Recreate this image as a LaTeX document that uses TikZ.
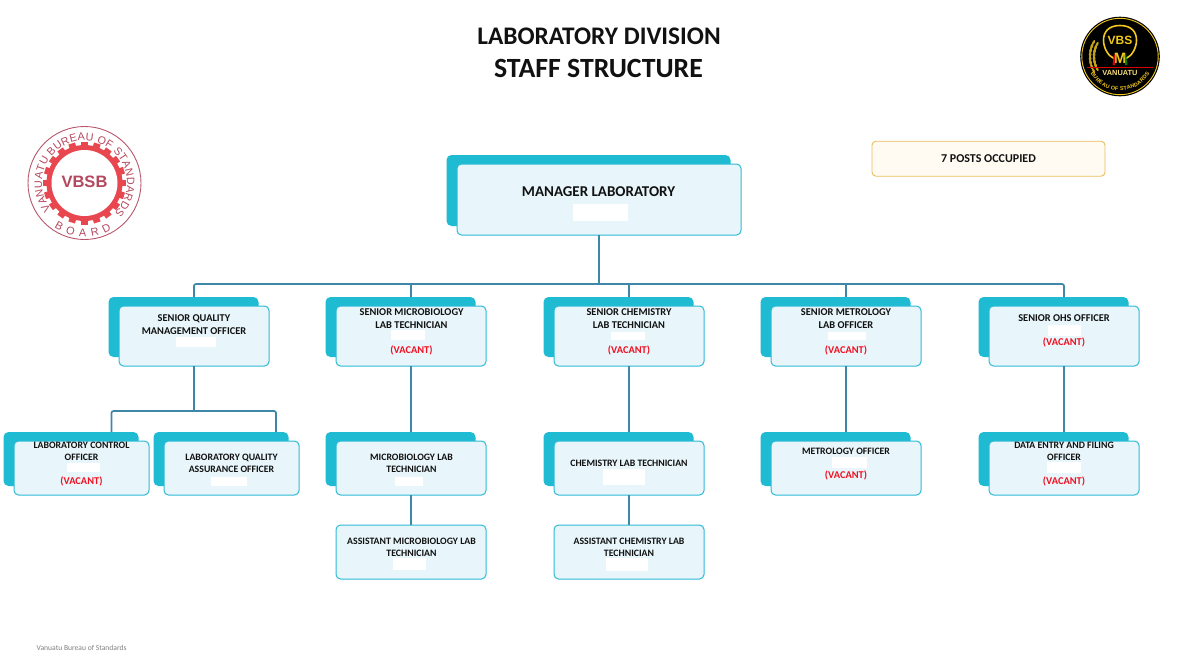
\documentclass[tikz,border=0pt]{standalone}
\usepackage{fontspec}
\setmainfont{Carlito}
\newfontfamily\sealfont{Liberation Sans}
\usetikzlibrary{decorations.text,calc}
\definecolor{plate}{HTML}{1FBBD3}
\definecolor{boxfill}{HTML}{E8F6FB}
\definecolor{boxline}{HTML}{2DBAD5}
\definecolor{conn}{HTML}{3F87A6}
\definecolor{ink}{HTML}{111111}
\definecolor{vac}{HTML}{F01020}
\definecolor{sealring}{HTML}{B8556A}
\definecolor{sealgear}{HTML}{E8474F}
\definecolor{sealtext}{HTML}{B5485E}
\definecolor{vbsgold}{HTML}{F2C81E}
\definecolor{postsline}{HTML}{E9BC5A}
\definecolor{postsfill}{HTML}{FFFBF3}
\tikzset{
  frontbox/.style={draw=boxline,fill=boxfill,line width=1pt,rounded corners=4.5pt,inner sep=0pt,outer sep=0pt},
  backbox/.style={fill=plate,rounded corners=5pt,inner sep=0pt,outer sep=0pt},
  connector/.style={draw=conn,line width=1.7pt},
  stafftext/.style={font=\bfseries\fontsize{10.4}{12.4}\selectfont,text=ink,align=center,inner sep=0pt},
  juniortext/.style={font=\bfseries\fontsize{9.8}{12.2}\selectfont,text=ink,align=center,inner sep=0pt},
  vacanttext/.style={font=\bfseries\fontsize{10.4}{12}\selectfont,text=vac,inner sep=0pt},
  whitepatch/.style={fill=white},
}
% name, x1, y1, x2, y2 : front box with its offset plate
\newcommand\platedbox[5]{%
  \pgfmathsetmacro\bw{#4-#2}\pgfmathsetmacro\bh{#5-#3}%
  \pgfmathsetmacro\bx{(#2+#4)/2}\pgfmathsetmacro\by{(#3+#5)/2}%
  \node[backbox,minimum width=\bw pt,minimum height=\bh pt] (#1-back) at (\bx-10.5,\by-9) {};%
  \node[frontbox,minimum width=\bw pt,minimum height=\bh pt] (#1) at (\bx,\by) {};%
}
\newcommand\plainbox[5]{%
  \pgfmathsetmacro\bw{#4-#2}\pgfmathsetmacro\bh{#5-#3}%
  \pgfmathsetmacro\bx{(#2+#4)/2}\pgfmathsetmacro\by{(#3+#5)/2}%
  \node[frontbox,minimum width=\bw pt,minimum height=\bh pt] (#1) at (\bx,\by) {};%
}
\begin{document}
\begin{tikzpicture}[x=1pt,y=-1pt]
\useasboundingbox (0,0) rectangle (1191,667);

% titles
\node[font=\bfseries\fontsize{25.3}{25.3}\selectfont,text=ink,inner sep=0pt] (title1) at (599,36) {LABORATORY DIVISION};
\node[font=\bfseries\fontsize{27.8}{27.8}\selectfont,text=ink,inner sep=0pt] (title2) at (598.5,68) {STAFF STRUCTURE};

% posts box
\node[draw=postsline,fill=postsfill,line width=0.9pt,rounded corners=4pt,minimum width=233pt,minimum height=35pt,inner sep=0pt,
      font=\bfseries\fontsize{12}{12}\selectfont,text=ink] (posts) at (988.5,158.7) {7 POSTS OCCUPIED};

% boxes
\platedbox{mgr}{457}{164}{741}{235}
\platedbox{qm}{119}{306}{269}{366}
\platedbox{mb}{336}{306}{486}{366}
\platedbox{ch}{554}{306}{704}{366}
\platedbox{me}{771}{306}{921}{366}
\platedbox{oh}{989}{306}{1139}{366}
\platedbox{lc}{14}{441}{149}{495}
\platedbox{lq}{164}{441}{299}{495}
\platedbox{mt}{336}{441}{486}{495}
\platedbox{ct}{554}{441}{704}{495}
\platedbox{mo}{771}{441}{921}{495}
\platedbox{de}{989}{441}{1139}{495}
\plainbox{am}{336}{525}{486}{579}
\plainbox{ac}{554}{525}{704}{579}

% connectors
\coordinate (busc) at (599,284);
\coordinate (busq) at (111.5,411);
\draw[connector] (mgr.south) -- (busc);
\draw[connector,rounded corners=2pt] (qm.north |- qm-back.north) |- (busc) -| (oh.north |- oh-back.north);
\draw[connector] (mb.north |- busc) -- (mb.north |- mb-back.north);
\draw[connector] (ch.north |- busc) -- (ch.north |- ch-back.north);
\draw[connector] (me.north |- busc) -- (me.north |- me-back.north);
\draw[connector] (qm.south) -- (qm.south |- busq);
\draw[connector,rounded corners=2pt] (busq |- lc-back.north) |- (qm.south |- busq) -| (276,432);
\draw[connector] (mb.south) -- (mb.south |- mt-back.north);
\draw[connector] (ch.south) -- (ch.south |- ct-back.north);
\draw[connector] (me.south) -- (me.south |- mo-back.north);
\draw[connector] (oh.south) -- (oh.south |- de-back.north);
\draw[connector] (mt.south) -- (am.north);
\draw[connector] (ct.south) -- (ac.north);

% blanked areas
\fill[whitepatch] (573,204) rectangle (628,221);
\fill[whitepatch] (176,337) rectangle (216,347);
\fill[whitepatch] (391,330) rectangle (425,340);
\fill[whitepatch] (611,332) rectangle (645,340);
\fill[whitepatch] (828,332) rectangle (866,340);
\fill[whitepatch] (1048,325) rectangle (1081,336);
\fill[whitepatch] (67,463) rectangle (100,472);
\fill[whitepatch] (211,477) rectangle (247,486);
\fill[whitepatch] (395,477) rectangle (423,486);
\fill[whitepatch] (603,469) rectangle (645,485);
\fill[whitepatch] (832,457) rectangle (867,468);
\fill[whitepatch] (1047,462) rectangle (1081,473);
\fill[whitepatch] (393,558) rectangle (426,570);
\fill[whitepatch] (606,558) rectangle (648,571);

% texts
\node[font=\bfseries\fontsize{15}{16}\selectfont,text=ink,inner sep=0pt] (mgr-t) at (598.5,191.7) {MANAGER LABORATORY};
\node[stafftext] (qm-t) at (194,324.5) {SENIOR QUALITY\\MANAGEMENT OFFICER};
\node[stafftext] (mb-t) at (411.5,318.5) {SENIOR MICROBIOLOGY\\LAB TECHNICIAN};
\node[stafftext] (ch-t) at (629,318.5) {SENIOR CHEMISTRY\\LAB TECHNICIAN};
\node[stafftext] (me-t) at (846,318.5) {SENIOR METROLOGY\\LAB OFFICER};
\node[stafftext] (oh-t) at (1064,318) {SENIOR OHS OFFICER};
\node[juniortext] (lc-t) at (81.5,451) {LABORATORY CONTROL\\OFFICER};
\node[juniortext] (lq-t) at (231.5,463) {LABORATORY QUALITY\\ASSURANCE OFFICER};
\node[juniortext] (mt-t) at (411.5,463) {MICROBIOLOGY LAB\\TECHNICIAN};
\node[juniortext] (ct-t) at (629,463) {CHEMISTRY LAB TECHNICIAN};
\node[juniortext] (mo-t) at (846,451) {METROLOGY OFFICER};
\node[juniortext] (de-t) at (1064,451) {DATA ENTRY AND FILING\\OFFICER};
\node[juniortext] (am-t) at (411.5,547) {ASSISTANT MICROBIOLOGY LAB\\TECHNICIAN};
\node[juniortext] (ac-t) at (629,547) {ASSISTANT CHEMISTRY LAB\\TECHNICIAN};

\node[vacanttext] (mb-v) at (411.5,350) {(VACANT)};
\node[vacanttext] (ch-v) at (629,350) {(VACANT)};
\node[vacanttext] (me-v) at (846,350) {(VACANT)};
\node[vacanttext] (oh-v) at (1064,342.5) {(VACANT)};
\node[vacanttext] (lc-v) at (81.5,481) {(VACANT)};
\node[vacanttext] (mo-v) at (846,475) {(VACANT)};
\node[vacanttext] (de-v) at (1064,481) {(VACANT)};

% footer
\node[font=\fontsize{7.6}{9}\selectfont,text=black!50,anchor=west,inner sep=0pt] (foot) at (36.5,647.5) {Vanuatu Bureau of Standards};

% round seal, left
\begin{scope}[shift={(84.5,183)}]
  \draw[sealring,line width=0.9pt] (0,0) circle[radius=56.5];
  \foreach \a in {0,18,...,342}
    \fill[sealgear,rotate=\a] (-3.4,-41.5) rectangle (3.4,-33);
  \fill[sealgear] (0,0) circle[radius=38];
  \fill[white] (0,0) circle[radius=33];
  \node[font=\sealfont\bfseries\fontsize{16.5}{17}\selectfont,text=sealtext,inner sep=0pt] (seal-t) at (0,-1) {VBSB};
  \path[postaction={decorate},decoration={text along path,text align={fit to path},text color=sealtext,
        text={|\sealfont\fontsize{10.8}{11}\selectfont|VANUATU BUREAU OF STANDARDS}}]
        (142:42.5) arc[start angle=142,end angle=405,radius=42.5];
  \path[postaction={decorate},decoration={text along path,text align={fit to path},text color=sealtext,
        text={|\sealfont\fontsize{11}{11}\selectfont|BOARD}}]
        (124:54) arc[start angle=124,end angle=60,radius=54];
\end{scope}

% VBS badge, right
\begin{scope}[shift={(1120,56.5)}]
  \fill[black] (0,0) circle[radius=39.8];
  \draw[vbsgold,line width=0.9pt] (0,0) circle[radius=38.2];
  \foreach \a in {160,168,...,208}{
    \fill[vbsgold!80!black,rotate=\a] (26,0) ellipse[x radius=1.2,y radius=2.6];
    \fill[vbsgold!80!black,rotate=\a] (30,0) ellipse[x radius=1.2,y radius=2.6];
    \fill[vbsgold!80!black,rotate=180-\a] (-26,0) ellipse[x radius=1.2,y radius=2.6];
    \fill[vbsgold!80!black,rotate=180-\a] (-30,0) ellipse[x radius=1.2,y radius=2.6];
  }
  \draw[vbsgold,line width=1.6pt] (-6,2) .. controls (-18,-3) and (-24,-31) .. (0,-31) .. controls (24,-31) and (18,-3) .. (6,2);
  \node[font=\sealfont\bfseries\fontsize{12}{12}\selectfont,text=vbsgold,inner sep=0pt] (vbs-t) at (0,-16.5) {VBS};
  \node[font=\sealfont\bfseries\fontsize{15}{15}\selectfont,text=vbsgold,inner sep=0pt] (m-t) at (0,1.5) {M};
  \fill[red!85!black] (-7.5,8.5) -- (-6.2,-2) -- (-4.6,-2) -- (-5.2,8.5) -- cycle;
  \fill[green!50!black] (5.2,8.5) -- (4.6,-2) -- (6.2,-2) -- (7.5,8.5) -- cycle;
  \draw[red!85!black,line width=1pt] (-33,10.5) -- (33,10.5);
  \node[font=\sealfont\bfseries\fontsize{7.4}{8}\selectfont,text=vbsgold!60!white,inner sep=0pt] (van-t) at (0,16.5) {VANUATU};
  \path[postaction={decorate},decoration={text along path,text align={fit to path},text color=vbsgold,
        text={|\sealfont\bfseries\fontsize{5.4}{6}\selectfont|BUREAU OF STANDARDS}}]
        (150:34) arc[start angle=150,end angle=30,radius=34];
\end{scope}
\end{tikzpicture}
\end{document}
